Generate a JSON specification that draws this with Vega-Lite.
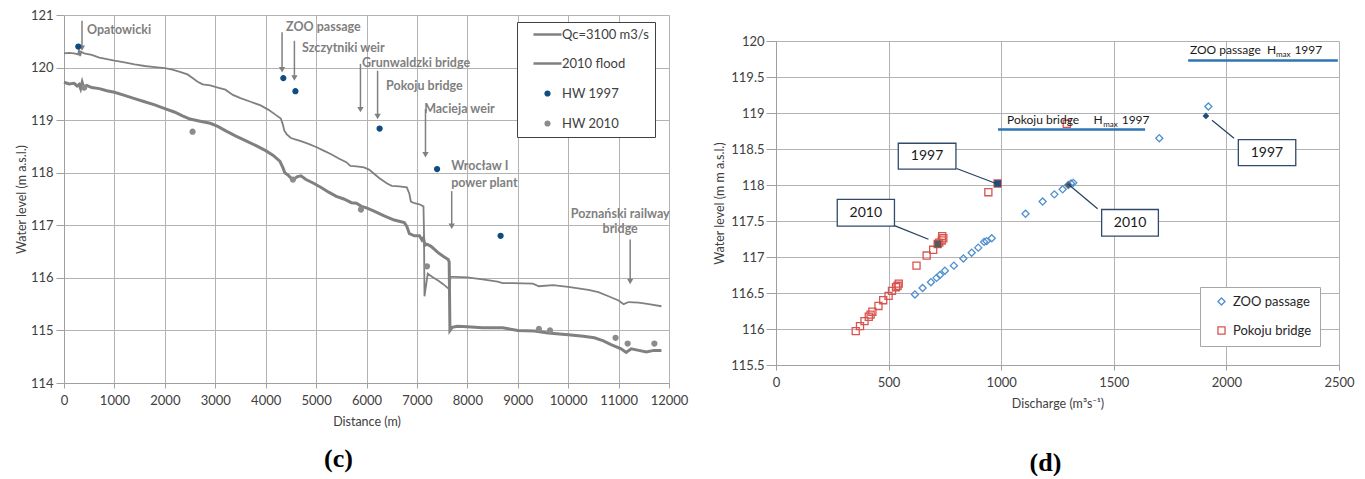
{
"$schema":"https://vega.github.io/schema/vega-lite/v6.json",
"background":"white",
"padding":{"left":15,"top":9,"right":5,"bottom":0},
"config":{"font":"Lato","view":{"stroke":null},
"axis":{"labelFont":"Lato","labelFontSize":13,"labelColor":"#404040","titleFont":"Lato","titleFontSize":12.5,"titleFontWeight":"normal","titleColor":"#404040","gridColor":"#b3b3b3","domainColor":"#a0a0a0","tickColor":"#a0a0a0","grid":true,"labelFlush":false,"labelOverlap":false},
"legend":{"labelFont":"Lato","labelFontSize":13,"labelColor":"#404040"}},
"datasets":{
"qc":[{"d":0,"h":120.27},{"d":100,"h":120.28},{"d":200,"h":120.27},{"d":280,"h":120.25},{"d":300,"h":120.34},{"d":320,"h":120.22},{"d":340,"h":120.3},{"d":400,"h":120.27},{"d":550,"h":120.24},{"d":700,"h":120.19},{"d":850,"h":120.16},{"d":1000,"h":120.13},{"d":1200,"h":120.1},{"d":1400,"h":120.06},{"d":1600,"h":120.03},{"d":1800,"h":120.01},{"d":2000,"h":119.99},{"d":2150,"h":119.96},{"d":2300,"h":119.92},{"d":2450,"h":119.87},{"d":2550,"h":119.8},{"d":2650,"h":119.73},{"d":2750,"h":119.68},{"d":2900,"h":119.66},{"d":3050,"h":119.62},{"d":3200,"h":119.58},{"d":3350,"h":119.48},{"d":3500,"h":119.42},{"d":3700,"h":119.35},{"d":3900,"h":119.28},{"d":4050,"h":119.2},{"d":4200,"h":119.1},{"d":4300,"h":119.03},{"d":4340,"h":118.92},{"d":4370,"h":118.8},{"d":4420,"h":118.73},{"d":4500,"h":118.66},{"d":4600,"h":118.63},{"d":4700,"h":118.6},{"d":4850,"h":118.55},{"d":5000,"h":118.49},{"d":5150,"h":118.42},{"d":5300,"h":118.35},{"d":5450,"h":118.27},{"d":5600,"h":118.2},{"d":5680,"h":118.13},{"d":5800,"h":118.12},{"d":5950,"h":118.1},{"d":6050,"h":118.06},{"d":6150,"h":117.98},{"d":6250,"h":117.9},{"d":6400,"h":117.8},{"d":6500,"h":117.75},{"d":6650,"h":117.74},{"d":6800,"h":117.72},{"d":6850,"h":117.6},{"d":6880,"h":117.45},{"d":6950,"h":117.42},{"d":7050,"h":117.4},{"d":7130,"h":117.36},{"d":7140,"h":116.9},{"d":7150,"h":115.65},{"d":7215,"h":116.08},{"d":7300,"h":116.02},{"d":7420,"h":115.95},{"d":7520,"h":115.88},{"d":7620,"h":115.8},{"d":7645,"h":115.78},{"d":7665,"h":116.02},{"d":7750,"h":116.02},{"d":8000,"h":116.01},{"d":8300,"h":115.97},{"d":8600,"h":115.93},{"d":8700,"h":115.9},{"d":8900,"h":115.9},{"d":9300,"h":115.89},{"d":9420,"h":115.84},{"d":9700,"h":115.86},{"d":10000,"h":115.83},{"d":10200,"h":115.8},{"d":10400,"h":115.77},{"d":10600,"h":115.73},{"d":10800,"h":115.65},{"d":11000,"h":115.57},{"d":11100,"h":115.5},{"d":11200,"h":115.54},{"d":11400,"h":115.53},{"d":11600,"h":115.5},{"d":11850,"h":115.46}],
"flood":[{"d":0,"h":119.72},{"d":100,"h":119.69},{"d":200,"h":119.7},{"d":260,"h":119.65},{"d":300,"h":119.68},{"d":330,"h":119.6},{"d":360,"h":119.72},{"d":390,"h":119.62},{"d":450,"h":119.66},{"d":550,"h":119.62},{"d":700,"h":119.6},{"d":850,"h":119.56},{"d":1000,"h":119.53},{"d":1200,"h":119.47},{"d":1400,"h":119.41},{"d":1600,"h":119.35},{"d":1800,"h":119.29},{"d":2000,"h":119.22},{"d":2200,"h":119.15},{"d":2350,"h":119.08},{"d":2500,"h":119.02},{"d":2700,"h":118.98},{"d":2900,"h":118.94},{"d":3050,"h":118.88},{"d":3200,"h":118.8},{"d":3400,"h":118.7},{"d":3600,"h":118.61},{"d":3800,"h":118.52},{"d":4000,"h":118.42},{"d":4150,"h":118.33},{"d":4280,"h":118.22},{"d":4340,"h":118.1},{"d":4380,"h":118.0},{"d":4450,"h":117.95},{"d":4540,"h":117.86},{"d":4620,"h":117.92},{"d":4700,"h":117.94},{"d":4800,"h":117.87},{"d":4950,"h":117.8},{"d":5100,"h":117.72},{"d":5250,"h":117.63},{"d":5400,"h":117.55},{"d":5550,"h":117.5},{"d":5700,"h":117.43},{"d":5800,"h":117.42},{"d":5900,"h":117.36},{"d":6000,"h":117.33},{"d":6150,"h":117.27},{"d":6350,"h":117.18},{"d":6550,"h":117.1},{"d":6750,"h":117.05},{"d":6800,"h":116.98},{"d":6850,"h":116.84},{"d":6950,"h":116.8},{"d":7050,"h":116.8},{"d":7100,"h":116.72},{"d":7130,"h":116.76},{"d":7160,"h":116.62},{"d":7200,"h":116.64},{"d":7280,"h":116.6},{"d":7420,"h":116.48},{"d":7520,"h":116.41},{"d":7620,"h":116.35},{"d":7640,"h":116.3},{"d":7655,"h":115.0},{"d":7700,"h":115.06},{"d":7800,"h":115.08},{"d":8000,"h":115.07},{"d":8300,"h":115.05},{"d":8700,"h":115.05},{"d":9000,"h":115.0},{"d":9330,"h":114.99},{"d":9600,"h":114.95},{"d":10000,"h":114.92},{"d":10300,"h":114.89},{"d":10520,"h":114.86},{"d":10700,"h":114.8},{"d":10850,"h":114.73},{"d":11050,"h":114.65},{"d":11150,"h":114.58},{"d":11250,"h":114.65},{"d":11400,"h":114.62},{"d":11550,"h":114.59},{"d":11700,"h":114.62},{"d":11850,"h":114.62}],
"hw":[{"d":284,"h":120.4,"series":"HW 1997"},{"d":4350,"h":119.8,"series":"HW 1997"},{"d":4590,"h":119.55,"series":"HW 1997"},{"d":6260,"h":118.84,"series":"HW 1997"},{"d":7400,"h":118.07,"series":"HW 1997"},{"d":8660,"h":116.8,"series":"HW 1997"},{"d":400,"h":119.62,"series":"HW 2010"},{"d":2550,"h":118.78,"series":"HW 2010"},{"d":4540,"h":117.87,"series":"HW 2010"},{"d":5890,"h":117.3,"series":"HW 2010"},{"d":7200,"h":116.22,"series":"HW 2010"},{"d":9420,"h":115.03,"series":"HW 2010"},{"d":9640,"h":115.0,"series":"HW 2010"},{"d":10940,"h":114.86,"series":"HW 2010"},{"d":11180,"h":114.75,"series":"HW 2010"},{"d":11710,"h":114.75,"series":"HW 2010"}],
"labels":[{"d":456,"h":120.71,"text":"Opatowicki","anchor":"left"},{"d":4405,"h":120.77,"text":"ZOO passage","anchor":"left"},{"d":4722,"h":120.37,"text":"Szczytniki weir","anchor":"left"},{"d":5913,"h":120.09,"text":"Grunwaldzki bridge","anchor":"left"},{"d":6389,"h":119.64,"text":"Pokoju bridge","anchor":"left"},{"d":7143,"h":119.21,"text":"Macieja weir","anchor":"left"},{"d":7680,"h":118.13,"text":"Wrocław I","anchor":"left"},{"d":7680,"h":117.81,"text":"power plant","anchor":"left"},{"d":11032,"h":117.21,"text":"Poznański railway","anchor":"center"},{"d":11032,"h":116.92,"text":"bridge","anchor":"center"}],
"arrows":[{"d":357,"h":120.37,"h2":120.89},{"d":4325,"h":119.96,"h2":120.67},{"d":4570,"h":119.8,"h2":120.51},{"d":5880,"h":119.2,"h2":120.07},{"d":6220,"h":119.07,"h2":119.94},{"d":7170,"h":118.34,"h2":119.21},{"d":7690,"h":116.98,"h2":117.65},{"d":11230,"h":115.93,"h2":116.73}],
"obs":[{"q":617,"h":116.48,"station":"ZOO passage"},{"q":651,"h":116.57,"station":"ZOO passage"},{"q":688,"h":116.65,"station":"ZOO passage"},{"q":713,"h":116.71,"station":"ZOO passage"},{"q":728,"h":116.75,"station":"ZOO passage"},{"q":750,"h":116.81,"station":"ZOO passage"},{"q":790,"h":116.88,"station":"ZOO passage"},{"q":832,"h":116.98,"station":"ZOO passage"},{"q":869,"h":117.06,"station":"ZOO passage"},{"q":898,"h":117.13,"station":"ZOO passage"},{"q":924,"h":117.21,"station":"ZOO passage"},{"q":935,"h":117.22,"station":"ZOO passage"},{"q":958,"h":117.26,"station":"ZOO passage"},{"q":1108,"h":117.6,"station":"ZOO passage"},{"q":1184,"h":117.77,"station":"ZOO passage"},{"q":1236,"h":117.87,"station":"ZOO passage"},{"q":1273,"h":117.94,"station":"ZOO passage"},{"q":1298,"h":118.0,"station":"ZOO passage"},{"q":1310,"h":118.02,"station":"ZOO passage"},{"q":1320,"h":118.03,"station":"ZOO passage"},{"q":1702,"h":118.65,"station":"ZOO passage"},{"q":1920,"h":119.09,"station":"ZOO passage"},
{"q":354,"h":115.97,"station":"Pokoju bridge"},{"q":373,"h":116.04,"station":"Pokoju bridge"},{"q":393,"h":116.11,"station":"Pokoju bridge"},{"q":412,"h":116.17,"station":"Pokoju bridge"},{"q":420,"h":116.2,"station":"Pokoju bridge"},{"q":428,"h":116.24,"station":"Pokoju bridge"},{"q":455,"h":116.32,"station":"Pokoju bridge"},{"q":476,"h":116.4,"station":"Pokoju bridge"},{"q":500,"h":116.46,"station":"Pokoju bridge"},{"q":515,"h":116.53,"station":"Pokoju bridge"},{"q":533,"h":116.58,"station":"Pokoju bridge"},{"q":545,"h":116.63,"station":"Pokoju bridge"},{"q":540,"h":116.6,"station":"Pokoju bridge"},{"q":624,"h":116.88,"station":"Pokoju bridge"},{"q":669,"h":117.02,"station":"Pokoju bridge"},{"q":698,"h":117.1,"station":"Pokoju bridge"},{"q":718,"h":117.18,"station":"Pokoju bridge"},{"q":725,"h":117.2,"station":"Pokoju bridge"},{"q":736,"h":117.23,"station":"Pokoju bridge"},{"q":743,"h":117.26,"station":"Pokoju bridge"},{"q":738,"h":117.29,"station":"Pokoju bridge"},{"q":943,"h":117.9,"station":"Pokoju bridge"},{"q":984,"h":118.02,"station":"Pokoju bridge"},{"q":1291,"h":118.85,"station":"Pokoju bridge"}],
"hl":[{"q":984,"h":118.02,"station":"Pokoju bridge","year":"1997"},{"q":718,"h":117.18,"station":"Pokoju bridge","year":"2010"},{"q":1909,"h":118.96,"station":"ZOO passage","year":"1997"},{"q":1298,"h":118.0,"station":"ZOO passage","year":"2010"}],
"hmax":[{"q":986,"q2":1639,"h":118.77},{"q":1830,"q2":2495,"h":119.73}],
"htext":[{"q":1026,"h":118.853,"text":"Pokoju  bridge","part":"main"},{"q":1410,"h":118.853,"text":"H","part":"main"},{"q":1453,"h":118.806,"text":"max","part":"sub"},{"q":1535,"h":118.853,"text":"1997","part":"main"},{"q":1838,"h":119.815,"text":"ZOO passage","part":"main"},{"q":2180,"h":119.815,"text":"H","part":"main"},{"q":2220,"h":119.778,"text":"max","part":"sub"},{"q":2302,"h":119.815,"text":"1997","part":"main"}],
"boxes":[{"q":543,"q2":799,"h":118.58,"h2":118.22,"tq":671,"th":118.4,"label":"1997"},{"q":272,"q2":526,"h":117.8,"h2":117.43,"tq":399,"th":117.615,"label":"2010"},{"q":2053,"q2":2308,"h":118.63,"h2":118.27,"tq":2180,"th":118.45,"label":"1997"},{"q":1446,"q2":1698,"h":117.66,"h2":117.29,"tq":1572,"th":117.475,"label":"2010"}],
"leaders":[{"q":802,"q2":977,"h":118.23,"h2":118.02},{"q":526,"q2":677,"h":117.435,"h2":117.246},{"q":1936,"q2":2034,"h":118.9,"h2":118.65},{"q":1298,"q2":1428,"h":118.01,"h2":117.67}]
},
"spacing":25,
"resolve":{"scale":{"color":"independent","stroke":"independent","shape":"independent","size":"independent","fill":"independent","x":"independent","y":"independent"},"legend":{"color":"independent","stroke":"independent","shape":"independent","size":"independent"}},
"hconcat":[
{"width":605,"height":368,
"title":{"text":"(c)","orient":"bottom","anchor":"middle","frame":"group","dx":-28,"offset":18,"font":"Liberation Serif","fontSize":26,"fontWeight":"bold","color":"#000000"},
"layer":[
{"data":{"name":"qc"},"mark":{"type":"line","color":"#808080","strokeWidth":1.8},
"encoding":{"x":{"field":"d","type":"quantitative","scale":{"domain":[0,12000],"nice":false},"axis":{"values":[0,1000,2000,3000,4000,5000,6000,7000,8000,9000,10000,11000,12000],"format":"d","title":"Distance (m)","tickSize":5,"labelPadding":6,"titlePadding":8,"grid":true}},
"y":{"field":"h","type":"quantitative","scale":{"domain":[114,121],"nice":false,"zero":false},"axis":{"values":[114,115,116,117,118,119,120,121],"format":"d","title":"Water level (m a.s.l.)","tickSize":8,"labelPadding":3,"titlePadding":2,"grid":true}}}},
{"data":{"name":"flood"},"mark":{"type":"line","color":"#808080","strokeWidth":3},"encoding":{"x":{"field":"d","type":"quantitative"},"y":{"field":"h","type":"quantitative"}}},
{"data":{"name":"arrows"},"mark":{"type":"rule","color":"#808080","strokeWidth":1.5},"encoding":{"x":{"field":"d","type":"quantitative"},"y":{"field":"h","type":"quantitative"},"y2":{"field":"h2"}}},
{"data":{"name":"arrows"},"mark":{"type":"point","shape":"triangle-down","filled":true,"color":"#808080","size":40,"opacity":1},"encoding":{"x":{"field":"d","type":"quantitative"},"y":{"field":"h","type":"quantitative"}}},
{"data":{"name":"labels"},"transform":[{"filter":"datum.anchor == 'left'"}],"mark":{"type":"text","align":"left","baseline":"middle","font":"Lato","fontWeight":"bold","fontSize":12.5,"color":"#7f7f7f"},"encoding":{"x":{"field":"d","type":"quantitative"},"y":{"field":"h","type":"quantitative"},"text":{"field":"text"}}},
{"data":{"name":"labels"},"transform":[{"filter":"datum.anchor == 'center'"}],"mark":{"type":"text","align":"center","baseline":"middle","font":"Lato","fontWeight":"bold","fontSize":12.5,"color":"#7f7f7f"},"encoding":{"x":{"field":"d","type":"quantitative"},"y":{"field":"h","type":"quantitative"},"text":{"field":"text"}}},
{"data":{"name":"hw"},"mark":{"type":"point","filled":true,"strokeWidth":2.5,"size":14,"opacity":1},
"encoding":{"x":{"field":"d","type":"quantitative"},"y":{"field":"h","type":"quantitative"},
"color":{"field":"series","type":"nominal","scale":{"domain":["Qc=3100 m3/s","2010 flood","HW 1997","HW 2010"],"range":["#808080","#808080","#0f4c81","#8c8c8c"]},"legend":{"title":null,"orient":"none","legendX":453,"legendY":7,"strokeColor":"#404040","fillColor":"#ffffff","padding":6,"rowPadding":15,"symbolOffset":18,"labelOffset":8,"labelFontSize":13,"labelColor":"#404040","symbolStrokeWidth":2.5,"symbolSize":14}},
"stroke":{"field":"series","type":"nominal","scale":{"domain":["Qc=3100 m3/s","2010 flood","HW 1997","HW 2010"],"range":["#808080","#808080","#0f4c81","#8c8c8c"]},"legend":{"title":null,"orient":"none","legendX":453,"legendY":7}},
"shape":{"field":"series","type":"nominal","scale":{"domain":["Qc=3100 m3/s","2010 flood","HW 1997","HW 2010"],"range":["M-7.5,0H7.5","M-7.5,0H7.5","circle","circle"]},"legend":{"title":null,"orient":"none","legendX":453,"legendY":7}}}}
]},
{"spacing":8,
"vconcat":[
{"width":563,"height":12,"data":{"values":[{"a":1}]},"mark":{"type":"point","opacity":0},"encoding":{}},
{"width":563,"height":324,
"title":{"text":"(d)","orient":"bottom","anchor":"middle","frame":"group","dx":-12,"offset":40,"font":"Liberation Serif","fontSize":26,"fontWeight":"bold","color":"#000000"},
"layer":[
{"data":{"name":"hmax"},"mark":{"type":"rule","color":"#2e75b6","strokeWidth":2.5},
"encoding":{"x":{"field":"q","type":"quantitative","scale":{"domain":[0,2500],"nice":false},"axis":{"tickCount":5,"labelExpr":"datum.value + ''","title":"Discharge (m³s⁻¹)","tickSize":5,"labelPadding":6,"titlePadding":8,"grid":true,"labelOverlap":false}},
"y":{"field":"h","type":"quantitative","scale":{"domain":[115.5,120],"nice":false,"zero":false},"axis":{"tickCount":9,"labelExpr":"datum.value + ''","title":"Water level (m m a.s.l.)","tickSize":10,"labelPadding":2,"titlePadding":4,"grid":true,"labelOverlap":false}},
"x2":{"field":"q2"}}},
{"data":{"name":"obs"},"mark":{"type":"point","filled":false,"strokeWidth":1.3,"size":50,"opacity":1},
"encoding":{"x":{"field":"q","type":"quantitative"},"y":{"field":"h","type":"quantitative"},
"stroke":{"field":"station","type":"nominal","scale":{"domain":["ZOO passage","Pokoju bridge"],"range":["#4f8fcf","#d9534f"]},"legend":{"title":null,"orient":"none","legendX":424,"legendY":272,"strokeColor":"#a6a6a6","fillColor":"#ffffff","padding":8,"rowPadding":15,"symbolOffset":7,"labelOffset":5,"labelFontSize":13,"labelColor":"#262626","symbolStrokeWidth":1.3,"symbolSize":50}},
"shape":{"field":"station","type":"nominal","scale":{"domain":["ZOO passage","Pokoju bridge"],"range":["diamond","square"]},"legend":{"title":null,"orient":"none","legendX":424,"legendY":272}}}},
{"data":{"name":"hl"},"mark":{"type":"point","filled":true,"size":45,"strokeWidth":0,"opacity":1},
"encoding":{"x":{"field":"q","type":"quantitative"},"y":{"field":"h","type":"quantitative"},
"fill":{"field":"year","type":"nominal","scale":{"domain":["1997","2010"],"range":["#1f4e79","#595959"]},"legend":null},
"shape":{"field":"station","type":"nominal"}}},
{"data":{"name":"leaders"},"mark":{"type":"rule","color":"#243f60","strokeWidth":1.2},"encoding":{"x":{"field":"q","type":"quantitative"},"x2":{"field":"q2"},"y":{"field":"h","type":"quantitative"},"y2":{"field":"h2"}}},
{"data":{"name":"boxes"},"mark":{"type":"rect","fill":"#ffffff","stroke":"#2f4a6a","strokeWidth":1.3},"encoding":{"x":{"field":"q","type":"quantitative"},"x2":{"field":"q2"},"y":{"field":"h","type":"quantitative"},"y2":{"field":"h2"}}},
{"data":{"name":"boxes"},"mark":{"type":"text","align":"center","baseline":"middle","fontSize":14,"font":"Lato","color":"#1a1a1a"},"encoding":{"x":{"field":"tq","type":"quantitative"},"y":{"field":"th","type":"quantitative"},"text":{"field":"label"}}},
{"data":{"name":"htext"},"transform":[{"filter":"datum.part == 'main'"}],"mark":{"type":"text","align":"left","baseline":"alphabetic","fontSize":12,"font":"Lato","color":"#1a1a1a"},"encoding":{"x":{"field":"q","type":"quantitative"},"y":{"field":"h","type":"quantitative"},"text":{"field":"text"}}},
{"data":{"name":"htext"},"transform":[{"filter":"datum.part == 'sub'"}],"mark":{"type":"text","align":"left","baseline":"alphabetic","fontSize":8,"font":"Lato","color":"#1a1a1a"},"encoding":{"x":{"field":"q","type":"quantitative"},"y":{"field":"h","type":"quantitative"},"text":{"field":"text"}}}
]}
]}
]
}
